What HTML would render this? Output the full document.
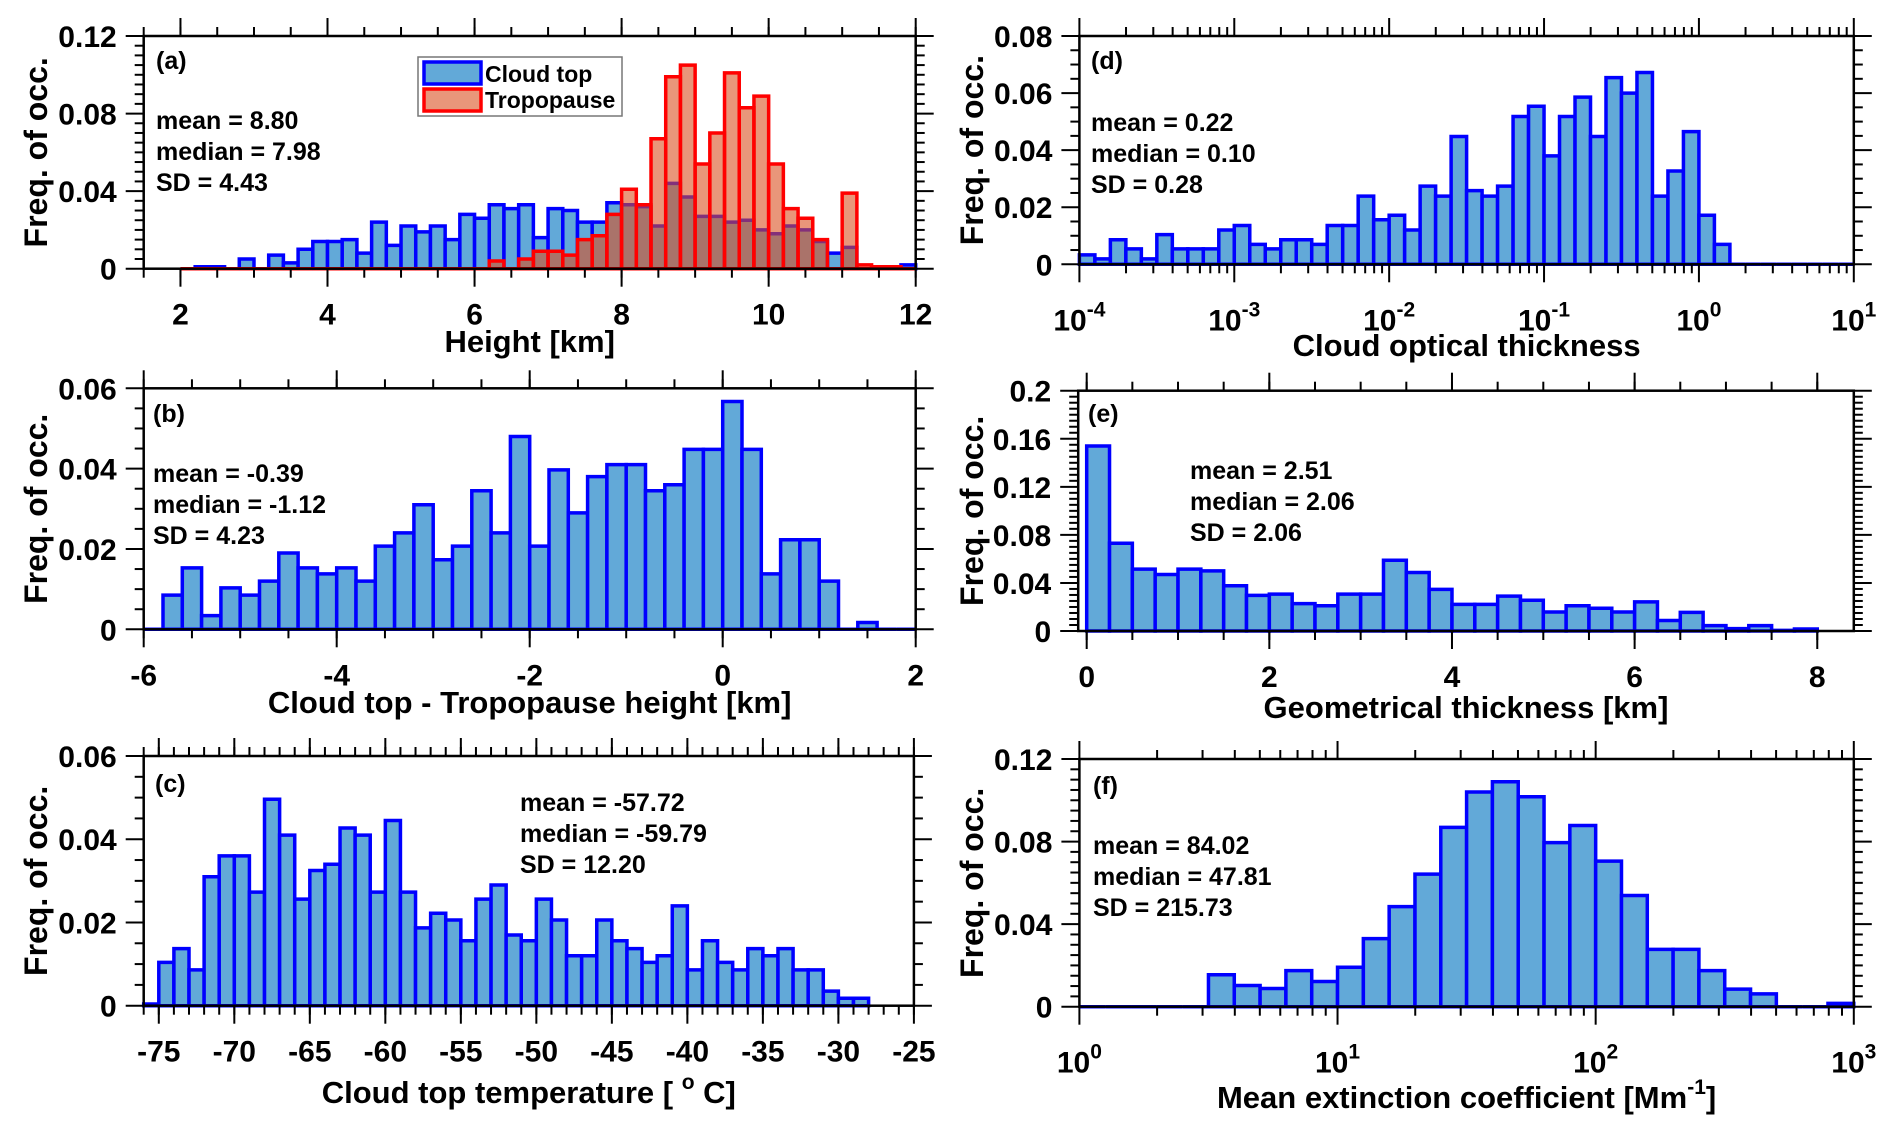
<!DOCTYPE html>
<html><head><meta charset="utf-8"><title>Cloud histograms</title>
<style>
html,body{margin:0;padding:0;background:#fff;}
svg{display:block;font-family:"Liberation Sans",Arial,sans-serif;font-weight:bold;}
</style></head>
<body>
<svg id="fig" width="1892" height="1133" viewBox="0 0 1892 1133" xmlns="http://www.w3.org/2000/svg"></svg>
<script>
// ---------- data ----------
const aBinStart = 2.0, aBinWidth = 0.2;
const aCloudTop = [0,0.001,0.001,0,0.005,0,0.007,0.003,0.010,0.014,0.014,0.015,0.008,0.024,0.012,0.022,0.019,0.022,0.015,0.028,0.026,0.033,0.031,0.033,0.016,0.031,0.030,0.024,0.024,0.034,0.033,0.032,0.022,0.044,0.037,0.027,0.027,0.024,0.025,0.020,0.018,0.022,0.020,0.014,0.008,0.011,0,0,0,0.002];
const aTropopause = [0,0,0,0,0,0,0,0,0,0,0,0,0,0,0,0,0,0,0,0,0,0.004,0,0.005,0.009,0.009,0.007,0.015,0.017,0.028,0.041,0.033,0.067,0.099,0.105,0.054,0.070,0.101,0.083,0.089,0.054,0.031,0.026,0.015,0,0.039,0.002,0.001,0.001,0];
const bBinStart = -6.0, bBinWidth = 0.2;
const bDiff = [0,0.0085,0.0153,0.0034,0.0103,0.0085,0.012,0.019,0.0153,0.0138,0.0153,0.012,0.0207,0.024,0.031,0.0173,0.0207,0.0345,0.024,0.048,0.0207,0.0397,0.029,0.038,0.041,0.041,0.0345,0.036,0.0448,0.0448,0.0567,0.0448,0.0138,0.0223,0.0223,0.012,0,0.0017,0,0];
const cBinStart = -76, cBinWidth = 1;
const cTemp = [0.0004,0.0104,0.0137,0.0086,0.031,0.036,0.036,0.0273,0.0496,0.041,0.0256,0.0325,0.034,0.0427,0.041,0.0273,0.0445,0.0273,0.0187,0.0222,0.0206,0.0156,0.0256,0.029,0.017,0.0156,0.0256,0.0206,0.012,0.012,0.0206,0.0156,0.0137,0.0104,0.012,0.024,0.0086,0.0156,0.0104,0.0086,0.0137,0.012,0.0137,0.0086,0.0086,0.0035,0.0018,0.0018];
const dBinStartExp = -4, dBinWidthExp = 0.1;
const dOptical = [0.0033,0.0019,0.0086,0.0054,0.0019,0.0104,0.0054,0.0054,0.0054,0.012,0.0136,0.007,0.0054,0.0086,0.0086,0.007,0.0136,0.0136,0.0239,0.0156,0.0172,0.012,0.0274,0.0239,0.0448,0.0258,0.0239,0.0274,0.0518,0.0554,0.038,0.0518,0.0586,0.0448,0.0654,0.060,0.0672,0.0239,0.0327,0.0465,0.0172,0.007,0,0,0,0,0,0,0,0];
const eBinStart = 0, eBinWidth = 0.25;
const eGeom = [0.154,0.073,0.0515,0.047,0.0515,0.050,0.0377,0.0296,0.0307,0.0228,0.021,0.0307,0.0307,0.0589,0.0487,0.0346,0.0222,0.0222,0.029,0.0256,0.0158,0.021,0.0189,0.0158,0.0242,0.0087,0.0155,0.0045,0.002,0.0045,0.0005,0.0017];
const fBinStartExp = 0, fBinWidthExp = 0.1;
const fExt = [0,0,0,0,0,0.0155,0.0103,0.0088,0.0175,0.0122,0.0191,0.033,0.0485,0.0642,0.0869,0.104,0.109,0.1017,0.0795,0.0878,0.0705,0.0539,0.0278,0.0278,0.0175,0.0085,0.0062,0,0,0.0016];
const aXTicks = [2,4,6,8,10,12];
const bXTicks = [-6,-4,-2,0,2];
const cXTicks = [-75,-70,-65,-60,-55,-50,-45,-40,-35,-30,-25];
const dXTicksExp = [-4,-3,-2,-1,0,1];
const eXTicks = [0,2,4,6,8];
const fXTicksExp = [0,1,2,3];

// ---------- helpers ----------
const NS = "http://www.w3.org/2000/svg";
const svg = document.getElementById('fig');
function mk(tag, attrs, parent){
  const el = document.createElementNS(NS, tag);
  for (const k in attrs) el.setAttribute(k, attrs[k]);
  (parent||svg).appendChild(el);
  return el;
}
const BLUE_FILL = "#62a9d8", BLUE_EDGE = "#0000ff";

function panel(cfg){
  const g = mk('g', {});
  
  
  const L=cfg.L,R=cfg.R,T=cfg.T,B=cfg.B;
  const sxe = (e)=> L + (e-cfg.xmin)/(cfg.xmax-cfg.xmin)*(R-L);
  const sy = (v)=> B - v/cfg.ymax*(B-T);
  cfg.sxe = sxe; cfg.sy = sy; cfg.g = g;

  cfg.draw(cfg);

  const fr = mk('rect', {x:L,y:T,width:R-L,height:B-T,fill:'none',stroke:'#000','stroke-width':2.5}, g);
  
  

  const tg = mk('g', {stroke:'#000','stroke-width':2}, g);
  
  
  cfg.xTicks.map(v=>sxe(v)).forEach(x=>{
    mk('line',{x1:x,x2:x,y1:B,y2:B+18},tg);
    mk('line',{x1:x,x2:x,y1:T,y2:T-18},tg);
  });
  let minorX = [];
  if (cfg.log){
    for (let e=Math.floor(cfg.xmin); e<cfg.xmax; e++) for (let m=2;m<=9;m++){ const p=e+Math.log10(m); if(p>cfg.xmin&&p<cfg.xmax) minorX.push(sxe(p)); }
  } else {
    const s=cfg.xMinor; for (let v=Math.ceil(cfg.xmin/s)*s; v<=cfg.xmax+1e-9; v+=s) minorX.push(sxe(v));
  }
  minorX.forEach(x=>{
    mk('line',{x1:x,x2:x,y1:B,y2:B+9},tg);
    mk('line',{x1:x,x2:x,y1:T,y2:T-9},tg);
  });
  const yg = mk('g', {stroke:'#000','stroke-width':2}, g);
  
  
  for (let v=0; v<=cfg.ymax+1e-9; v+=cfg.yMinor){
    const y=sy(v);
    const isMaj = Math.abs(v/cfg.yMajor - Math.round(v/cfg.yMajor))<1e-6;
    const len = isMaj?18:9;
    mk('line',{x1:L,x2:L-len,y1:y,y2:y},yg);
    mk('line',{x1:R,x2:R+len,y1:y,y2:y},yg);
  }
  cfg.xTicks.forEach(v=>{
    const x = sxe(v);
    if (cfg.log){
      const t = mk('text',{x:x,y:B+66,'text-anchor':'middle','font-size':30},g);
      
      
      t.textContent = '10';
      const s = mk('tspan',{dy:-14,'font-size':21},t);
      s.textContent = String(v);
    } else {
      const t = mk('text',{x:x,y:B+56,'text-anchor':'middle','font-size':30},g);
      
      
      t.textContent = String(v);
    }
  });
  for (let v=0; v<=cfg.ymax+1e-9; v+=cfg.yMajor){
    const t = mk('text',{x:L-27,y:sy(v)+11,'text-anchor':'end','font-size':30},g);
    
    
    t.textContent = v<1e-9 ? '0' : String(+v.toFixed(2));
  }
  const cy=(T+B)/2;
  const yl = mk('text',{x:cfg.ylabX,y:cy,'text-anchor':'middle','font-size':32,transform:`rotate(-90 ${cfg.ylabX} ${cy})`,'dominant-baseline':'central'},g);
  
  
  yl.textContent = 'Freq. of occ.';
  const xl = mk('text',{x:(L+R)/2,y:cfg.xlabY,'text-anchor':'middle','font-size':31},g);
  
  
  cfg.xlab(xl);
  const pl = mk('text',{x:cfg.letter[0],y:cfg.letter[1]+9,'font-size':25},g);
  
  
  pl.textContent = '(' + cfg.id + ')';
  cfg.stats.forEach((s,i)=>{
    const st = mk('text',{x:cfg.statPos[0],y:cfg.statPos[1]+i*31+9,'font-size':25},g);
    
    
    st.textContent = s;
  });
}

function bars(cfg, vals, start, width, fill, edge, name, opacity){
  const bg = mk('g', {}, cfg.g);
  
  
  vals.forEach((v,i)=>{
    const x0 = cfg.sxe(start + i*width), x1 = cfg.sxe(start + (i+1)*width);
    const y = cfg.sy(v), y0 = cfg.sy(0);
    const r = mk('path',{d:`M${x0},${y0}V${y}H${x1}V${y0}Z`,fill:fill,'fill-opacity':opacity||1,stroke:edge,'stroke-width':3.5,'stroke-linejoin':'miter'},bg);
    
    
  });
}

function plainLabel(txt){ return (el)=>{ el.textContent = txt; }; }

panel({id:'a',L:143.7,R:915.7,T:36,B:268.7,xmin:1.5,xmax:12,ymax:0.12,yMajor:0.04,yMinor:0.005,xMinor:0.5,
  xTicks:aXTicks, ylabX:36, xlabY:352, letter:[156,60], statPos:[156,120],
  stats:['mean = 8.80','median = 7.98','SD = 4.43'], xlab:plainLabel('Height [km]'),
  draw:(c)=>{
    bars(c,aCloudTop,aBinStart,aBinWidth,BLUE_FILL,BLUE_EDGE,'cloud-top-bars');
    bars(c,aTropopause,aBinStart,aBinWidth,'rgb(218,80,33)','#ff0000','tropopause-bars',0.6);
  }});
panel({id:'b',L:143.7,R:915.7,T:388.3,B:629.3,xmin:-6,xmax:2,ymax:0.06,yMajor:0.02,yMinor:0.005,xMinor:0.5,
  xTicks:bXTicks, ylabX:36, xlabY:713, letter:[153,413], statPos:[153,473],
  stats:['mean = -0.39','median = -1.12','SD = 4.23'], xlab:plainLabel('Cloud top - Tropopause height [km]'),
  draw:(c)=>bars(c,bDiff,bBinStart,bBinWidth,BLUE_FILL,BLUE_EDGE,'difference-bars')});
panel({id:'c',L:143.7,R:913.9,T:756,B:1005.7,xmin:-76,xmax:-25,ymax:0.06,yMajor:0.02,yMinor:0.005,xMinor:1,
  xTicks:cXTicks, ylabX:36, xlabY:1103, letter:[155,783], statPos:[520,802],
  stats:['mean = -57.72','median = -59.79','SD = 12.20'],
  xlab:(el)=>{ el.textContent='Cloud top temperature [ '; const s=mk('tspan',{dy:-14,'font-size':21},el); s.textContent='o'; const s2=mk('tspan',{dy:14},el); s2.textContent=' C]'; },
  draw:(c)=>bars(c,cTemp,cBinStart,cBinWidth,BLUE_FILL,BLUE_EDGE,'temperature-bars')});
panel({id:'d',log:true,L:1079.4,R:1853.8,T:36,B:264.3,xmin:-4,xmax:1,ymax:0.08,yMajor:0.02,yMinor:0.005,
  xTicks:dXTicksExp, ylabX:972, xlabY:356, letter:[1091,60], statPos:[1091,122],
  stats:['mean = 0.22','median = 0.10','SD = 0.28'], xlab:plainLabel('Cloud optical thickness'),
  draw:(c)=>bars(c,dOptical,dBinStartExp,dBinWidthExp,BLUE_FILL,BLUE_EDGE,'optical-thickness-bars')});
panel({id:'e',L:1078.2,R:1853.8,T:390.7,B:631,xmin:-0.093,xmax:8.4,ymax:0.2,yMajor:0.04,yMinor:0.005,xMinor:0.5,
  xTicks:eXTicks, ylabX:972, xlabY:718, letter:[1088,413], statPos:[1190,470],
  stats:['mean = 2.51','median = 2.06','SD = 2.06'], xlab:plainLabel('Geometrical thickness [km]'),
  draw:(c)=>bars(c,eGeom,eBinStart,eBinWidth,BLUE_FILL,BLUE_EDGE,'geometrical-thickness-bars')});
panel({id:'f',log:true,L:1079.4,R:1853.8,T:759,B:1006.7,xmin:0,xmax:3,ymax:0.12,yMajor:0.04,yMinor:0.005,
  xTicks:fXTicksExp, ylabX:972, xlabY:1108, letter:[1093,785], statPos:[1093,845],
  stats:['mean = 84.02','median = 47.81','SD = 215.73'],
  xlab:(el)=>{ el.textContent='Mean extinction coefficient [Mm'; const s=mk('tspan',{dy:-14,'font-size':21},el); s.textContent='-1'; const s2=mk('tspan',{dy:14},el); s2.textContent=']'; },
  draw:(c)=>bars(c,fExt,fBinStartExp,fBinWidthExp,BLUE_FILL,BLUE_EDGE,'extinction-bars')});

const lg = mk('g', {});


mk('rect',{x:418,y:57,width:204,height:59,fill:'#fff',stroke:'#777','stroke-width':1.5},lg);
const le1 = mk('rect',{x:424,y:62,width:57,height:22,fill:BLUE_FILL,stroke:BLUE_EDGE,'stroke-width':3.5},lg);


const le2 = mk('rect',{x:424,y:89,width:57,height:22,fill:'rgb(218,80,33)','fill-opacity':0.6,stroke:'#ff0000','stroke-width':3.5},lg);


const lt1 = mk('text',{x:485,y:82,'font-size':23},lg);


lt1.textContent = 'Cloud top';
const lt2 = mk('text',{x:485,y:108,'font-size':23},lg);


lt2.textContent = 'Tropopause';
</script>
</body></html>
